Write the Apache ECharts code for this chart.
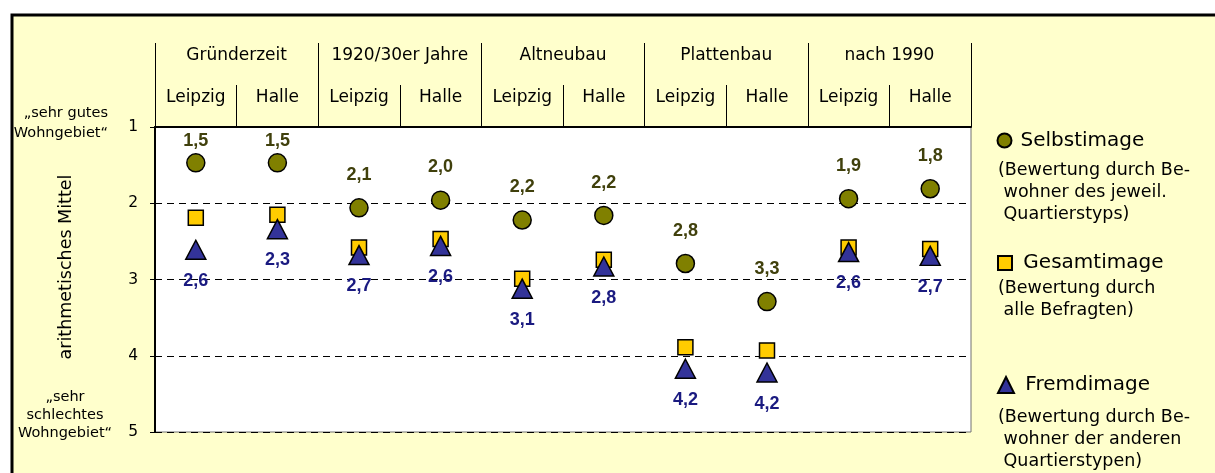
<!DOCTYPE html>
<html>
<head>
<meta charset="utf-8">
<script src="https://cdn.jsdelivr.net/npm/echarts@6/dist/echarts.min.js"></script>
<style>
html,body{margin:0;padding:0;background:#fff;}
#chart{width:1215px;height:473px;}
</style>
</head>
<body>
<div id="chart"></div>
<script>
const groups = ['Gründerzeit', '1920/30er Jahre', 'Altneubau', 'Plattenbau', 'nach 1990'];
const cities = ['Leipzig', 'Halle', 'Leipzig', 'Halle', 'Leipzig', 'Halle', 'Leipzig', 'Halle', 'Leipzig', 'Halle'];
const selbst = [1.47, 1.47, 2.06, 1.96, 2.22, 2.16, 2.79, 3.29, 1.94, 1.81];
const gesamt = [2.19, 2.15, 2.58, 2.47, 2.99, 2.74, 3.89, 3.93, 2.58, 2.60];
const fremd  = [2.61, 2.34, 2.68, 2.56, 3.12, 2.83, 4.17, 4.22, 2.64, 2.69];
const yMin = 1, yMax = 5, yStep = 1;
const seriesNames = ['Selbstimage', 'Gesamtimage', 'Fremdimage'];
const legendNotes = [
  '(Bewertung durch Be-\n wohner des jeweil.\n Quartierstyps)',
  '(Bewertung durch\n alle Befragten)',
  '(Bewertung durch Be-\n wohner der anderen\n Quartierstypen)'
];
const topNote = '„sehr gutes\nWohngebiet“';
const bottomNote = '„sehr\nschlechtes\nWohngebiet“';
const yName = 'arithmetisches Mittel';

const fmt = p => p.value.toFixed(1).replace('.', ',');
const txt = 'DejaVu Sans';

const chart = echarts.init(document.getElementById('chart'), null, {renderer: 'canvas'});
chart.setOption({
  backgroundColor: '#ffffff',
  animation: false,
  graphic: [
    {type: 'rect', z: -10, silent: true,
     shape: {x: 12, y: 15, width: 1220, height: 480},
     style: {fill: '#FFFFCC', stroke: '#000', lineWidth: 3}},
    {type: 'text', x: 108, y: 103, silent: true,
     style: {text: topNote, align: 'right', verticalAlign: 'top', font: '14.5px "DejaVu Sans"', lineHeight: 20, fill: '#000'}},
    {type: 'text', x: 65, y: 388, silent: true,
     style: {text: bottomNote, align: 'center', verticalAlign: 'top', font: '14.5px "DejaVu Sans"', lineHeight: 18, fill: '#000'}},
    {type: 'text', x: 998, y: 159, silent: true,
     style: {text: legendNotes[0], align: 'left', verticalAlign: 'top', font: '17.5px "DejaVu Sans"', lineHeight: 22, fill: '#000'}},
    {type: 'text', x: 998, y: 277, silent: true,
     style: {text: legendNotes[1], align: 'left', verticalAlign: 'top', font: '17.5px "DejaVu Sans"', lineHeight: 22, fill: '#000'}},
    {type: 'text', x: 998, y: 406, silent: true,
     style: {text: legendNotes[2], align: 'left', verticalAlign: 'top', font: '17.5px "DejaVu Sans"', lineHeight: 22, fill: '#000'}}
  ],
  grid: {left: 155, right: 244, top: 127, bottom: 41, show: true, backgroundColor: '#ffffff', borderColor: '#707070', borderWidth: 1},
  legend: [
    {data: [seriesNames[0]], left: 996.5, top: 130.5, padding: 0, itemWidth: 22, itemHeight: 14, selectedMode: false,
     textStyle: {fontFamily: txt, fontSize: 20, color: '#000'}},
    {data: [seriesNames[1]], left: 997, top: 253, padding: 0, itemWidth: 14, itemHeight: 14, selectedMode: false,
     formatter: n => ' ' + n, textStyle: {fontFamily: txt, fontSize: 20, color: '#000'}},
    {data: [seriesNames[2]], left: 997, top: 375, padding: 0, itemWidth: 16, itemHeight: 16, selectedMode: false,
     formatter: n => ' ' + n, textStyle: {fontFamily: txt, fontSize: 20, color: '#000'}}
  ],
  xAxis: [
    {type: 'category', data: cities, position: 'top', boundaryGap: true,
     axisLine: {show: true, lineStyle: {color: '#000', width: 2}},
     axisTick: {show: true, length: 42, lineStyle: {color: '#000', width: 1}},
     axisLabel: {margin: 21, fontFamily: txt, fontSize: 17, color: '#000', interval: 0},
     splitLine: {show: false}},
    {type: 'category', data: groups, position: 'top', boundaryGap: true,
     axisLine: {show: false},
     axisTick: {show: true, length: 84, lineStyle: {color: '#000', width: 1}},
     axisLabel: {margin: 63, fontFamily: txt, fontSize: 17, color: '#000', interval: 0},
     splitLine: {show: false}}
  ],
  yAxis: {
    type: 'value', inverse: true, min: yMin, max: yMax, interval: yStep,
    name: yName, nameLocation: 'middle', nameGap: 80, nameRotate: 90,
    nameTextStyle: {fontFamily: txt, fontSize: 17.5, color: '#000', padding: [0, 0, 0, 25]},
    axisLine: {show: true, lineStyle: {color: '#000', width: 2}},
    axisTick: {show: true, length: 5, lineStyle: {color: '#000', width: 1}},
    axisLabel: {margin: 17, fontFamily: txt, fontSize: 15.5, color: '#000'},
    splitLine: {show: true, lineStyle: {color: '#000', width: 1, type: [7, 5]}}
  },
  series: [
    {name: seriesNames[0], type: 'scatter', xAxisIndex: 0, symbol: 'circle', symbolSize: 18,
     itemStyle: {color: '#808000', borderColor: '#000', borderWidth: 1.5, opacity: 1},
     label: {show: true, position: 'top', formatter: fmt, fontFamily: 'Liberation Sans', fontWeight: 'bold', fontSize: 18, color: '#40400c'},
     data: selbst.map(v => ({value: v, label: {distance: v < 1.6 ? 3 : 14}}))},
    {name: seriesNames[1], type: 'scatter', xAxisIndex: 0, symbol: 'rect', symbolSize: 15,
     itemStyle: {color: '#FFCC00', borderColor: '#000', borderWidth: 1.5, opacity: 1},
     data: gesamt},
    {name: seriesNames[2], type: 'scatter', xAxisIndex: 0, symbol: 'triangle', symbolSize: [20, 19],
     itemStyle: {color: '#333399', borderColor: '#000', borderWidth: 1.5, opacity: 1},
     label: {show: true, position: 'bottom', distance: 12, formatter: fmt, fontFamily: 'Liberation Sans', fontWeight: 'bold', fontSize: 18, color: '#1a1a80'},
     data: fremd}
  ]
});
</script>
</body>
</html>
